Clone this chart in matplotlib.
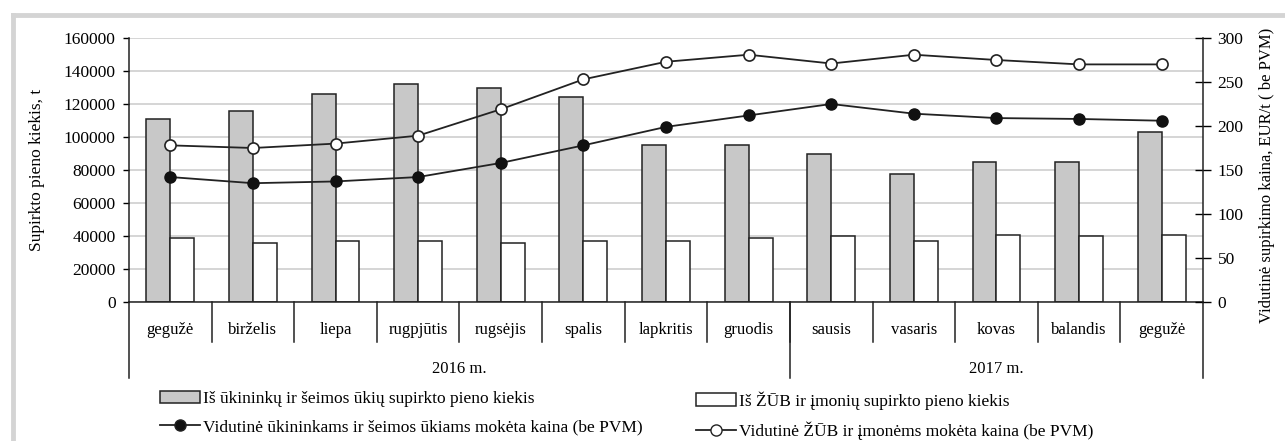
import matplotlib.pyplot as plt
import matplotlib.transforms as mtransforms
import numpy as np
from matplotlib.lines import Line2D
from matplotlib.patches import Patch

plt.rcParams["font.family"] = ["Liberation Serif", "DejaVu Serif"]
plt.rcParams["font.size"] = 12

months = ["gegužė", "birželis", "liepa", "rugpjūtis", "rugsėjis", "spalis",
          "lapkritis", "gruodis", "sausis", "vasaris", "kovas", "balandis", "gegužė"]
years = ["2016 m.", "2017 m."]
year_sizes = [8, 5]

farm_qty = [111000, 116000, 126000, 132000, 130000, 124000, 95000,
            95000, 90000, 77500, 85000, 85000, 103000]
coop_qty = [39000, 36000, 37000, 37000, 36000, 37000, 37000,
            39000, 40000, 37000, 40500, 40000, 40500]
farm_price = [142, 135, 137, 142, 158, 178, 199, 212, 225, 214, 209, 208, 206]
coop_price = [178, 175, 180, 189, 219, 253, 273, 281, 271, 281, 275, 270, 270]

lbl_farm_qty = "Iš ūkininkų ir šeimos ūkių supirkto pieno kiekis"
lbl_coop_qty = "Iš ŽŪB ir įmonių supirkto pieno kiekis"
lbl_farm_price = "Vidutinė ūkininkams ir šeimos ūkiams mokėta kaina (be PVM)"
lbl_coop_price = "Vidutinė ŽŪB ir įmonėms mokėta kaina (be PVM)"

W, H = 1285, 441
fig = plt.figure(figsize=(W / 100, H / 100), dpi=100)

# plot box in pixels: x 129..1203, y 38..302
ax = fig.add_axes([129 / W, 1 - 302 / H, 1074 / W, 264 / H])
x = np.arange(len(months))
bw = 0.29

ax.bar(x - bw, farm_qty, width=bw, align="edge", color="#c8c8c8",
       edgecolor="#222222", linewidth=1.1, zorder=2)
ax.bar(x, coop_qty, width=bw, align="edge", color="white",
       edgecolor="#222222", linewidth=1.1, zorder=2)

ax.set_xlim(-0.5, len(months) - 0.5)
ax.set_ylim(0, 160000)
ax.set_yticks(np.arange(0, 160001, 20000))
ax.set_xticks([])
ax.yaxis.grid(True, color="#d2d2d2", linewidth=1.3)
ax.set_axisbelow(True)
ax.tick_params(axis="y", direction="out", length=4.5, width=1, pad=5, labelsize=12.5)
for s in ["top", "right"]:
    ax.spines[s].set_visible(False)
for s in ["left", "bottom"]:
    ax.spines[s].set_linewidth(1.1)
    ax.spines[s].set_color("#222222")

ax2 = ax.twinx()
ax2.plot(x, farm_price, color="#222222", lw=1.3, marker="o", ms=8,
         mfc="#111111", mec="#111111", zorder=3)
ax2.plot(x, coop_price, color="#222222", lw=1.3, marker="o", ms=8,
         mfc="white", mec="#222222", mew=1.2, zorder=3)
ax2.set_ylim(0, 300)
ax2.set_yticks(np.arange(0, 301, 50))
ax2.tick_params(axis="y", direction="inout", length=11, width=1, pad=5, labelsize=12.5)
for s in ["top", "left", "bottom"]:
    ax2.spines[s].set_visible(False)
ax2.spines["right"].set_linewidth(1.1)
ax2.spines["right"].set_color("#222222")

# category table below the axis
trans = mtransforms.blended_transform_factory(ax.transData, ax.transAxes)
month_bottom = (302 - 342) / 264
year_bottom = (302 - 378) / 264
for k in range(1, len(months)):
    ax.plot([k - 0.5, k - 0.5], [0, month_bottom], color="#222222", lw=1.1,
            transform=trans, clip_on=False)
for i, m in enumerate(months):
    ax.text(i, (302 - 330) / 264, m, transform=trans, ha="center", va="center")

edges = np.concatenate([[0], np.cumsum(year_sizes)]) - 0.5
for e in edges:
    ax.plot([e, e], [0, year_bottom], color="#222222", lw=1.1,
            transform=trans, clip_on=False)
for i, yname in enumerate(years):
    ax.text((edges[i] + edges[i + 1]) / 2, (302 - 369) / 264, yname,
            transform=trans, ha="center", va="center")

fig.text(37 / W, 1 - 170 / H, "Supirkto pieno kiekis, t", rotation=90,
         ha="center", va="center", fontsize=12.5)
fig.text(1267 / W, 1 - 175 / H, "Vidutinė supirkimo kaina, EUR/t ( be PVM)",
         rotation=90, ha="center", va="center", fontsize=12)

# legend, two columns placed separately
col1 = [Patch(facecolor="#c8c8c8", edgecolor="#222222", lw=1.1),
        Line2D([], [], color="#222222", lw=1.3, marker="o", ms=8, mfc="#111111")]
col2 = [Patch(facecolor="white", edgecolor="#222222", lw=1.1),
        Line2D([], [], color="#222222", lw=1.3, marker="o", ms=8, mfc="white")]
leg_kw = dict(loc="upper left", frameon=False, borderpad=0, borderaxespad=0,
              handlelength=2.3, handletextpad=0.2, labelspacing=0.7, fontsize=12.5)
fig.legend(col1, [lbl_farm_qty, lbl_farm_price],
           bbox_to_anchor=(160 / W, 1 - 391 / H), **leg_kw)
fig.legend(col2, [lbl_coop_qty, lbl_coop_price],
           bbox_to_anchor=(696 / W, 1 - 391 / H), **leg_kw)

# light grey frame
fig.add_artist(Line2D([12.5 / W, 12.5 / W], [0, 1 - 15 / H], color="#d4d4d4",
                      lw=3.5, transform=fig.transFigure))
fig.add_artist(Line2D([12.5 / W, 1], [1 - 15 / H, 1 - 15 / H], color="#d4d4d4",
                      lw=3.5, transform=fig.transFigure))

fig.savefig("out.png", dpi=100)
